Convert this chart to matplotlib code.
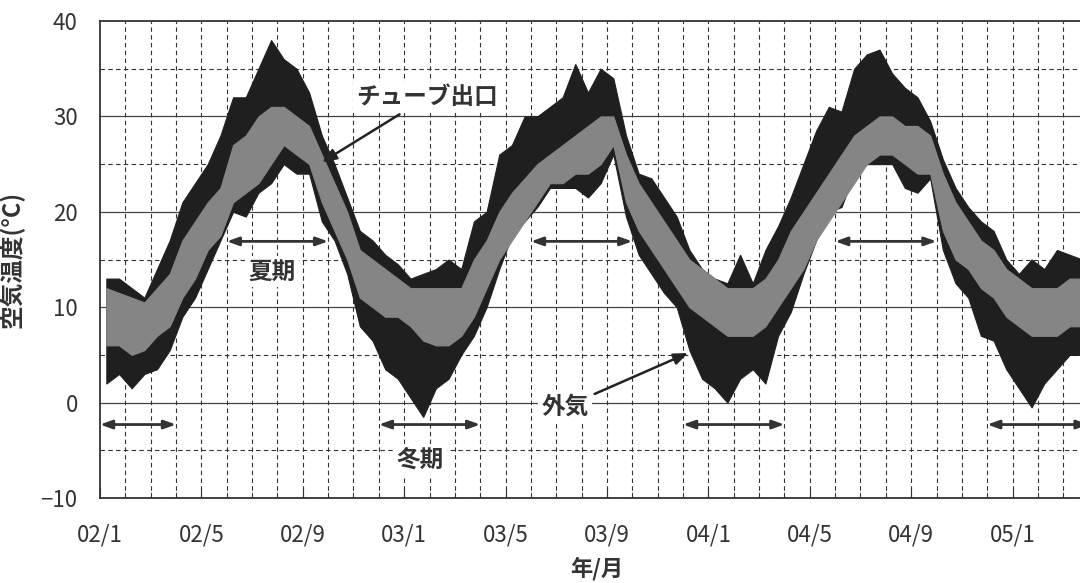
import matplotlib
matplotlib.use('Agg')
import matplotlib.pyplot as plt
import numpy as np

plt.rcParams['font.family'] = ['Noto Sans CJK JP', 'DejaVu Sans']

# half-month steps starting 2002/1 (x in months since 2002/1)
months = np.arange(78) * 0.5 + 0.25

# outside air (外気): upper / lower envelope per half month [degC]
out_hi = [13, 13, 12, 11, 14, 17, 21, 23, 25, 28, 32, 32, 35, 38, 36, 35,
          32.5, 28, 25, 21.5, 18, 17, 15.5, 14.5, 13, 13.5, 14, 15, 14, 19,
          20, 26, 27, 30, 30, 31, 32, 35.5, 32.5, 35, 34, 28, 24, 23.5, 21.5,
          19.5, 16, 14, 13, 12.5, 15.5, 12.5, 16, 18.5, 21.5, 25, 28.5, 31,
          30.5, 35, 36.5, 37, 34.5, 33, 32, 29.5, 25.5, 22.5, 20.5, 19, 18,
          15, 13.5, 15, 14, 16, 15.5, 15]
out_lo = [2, 3, 1.5, 3, 3.5, 5.5, 9, 11, 14, 17, 20, 19.5, 22, 23, 25, 24,
          24, 19, 17, 13.5, 8, 6.5, 3.5, 2.5, 0.5, -1.5, 1.5, 2.5, 5, 7,
          10, 14, 17.5, 19, 20.5, 22.5, 22.5, 22.5, 21.5, 23, 26, 19.5, 15.5,
          13.5, 11.5, 10, 5.5, 2.5, 1.5, 0, 2.5, 3.5, 2, 7, 9.5, 13.5, 17, 20,
          20.5, 24, 25, 25, 25, 22.5, 22, 23.5, 16, 12.5, 11, 7, 6.5, 3.5,
          1.5, -0.5, 2, 3.5, 5, 5]

# tube outlet (チューブ出口)
tube_hi = [12, 11.5, 11, 10.5, 12, 13.5, 17, 19, 21, 22.5, 27, 28, 30, 31, 31,
           30, 29, 26, 23, 20, 16, 15, 14, 13, 12, 12, 12, 12, 12, 15, 17, 20,
           22, 23.5, 25, 26, 27, 28, 29, 30, 30, 26, 23, 21, 19, 17, 15, 14,
           13, 12, 12, 12, 13, 15, 18, 20, 22, 24, 26, 28, 29, 30, 30, 29, 29,
           28, 24, 21, 19, 17, 16, 14, 13, 12, 12, 12, 13, 13]
tube_lo = [6, 6, 5, 5.5, 7, 8, 11, 13, 16, 17.5, 21, 22, 23, 25, 27, 26, 25,
           21, 18, 15, 11, 10, 9, 9, 8, 6.5, 6, 6, 7, 9, 12, 15, 17, 19, 21,
           23, 23, 24, 24, 25, 27, 21, 18, 16, 14, 12, 10, 9, 8, 7, 7, 7, 8,
           10, 12, 14, 17, 19, 21, 23, 25, 26, 26, 25, 24, 24, 18, 15, 14, 12,
           11, 9, 8, 7, 7, 7, 8, 8]

tick_pos = [0, 4, 8, 12, 16, 20, 24, 28, 32, 36]
tick_labels = ['02/1', '02/5', '02/9', '03/1', '03/5', '03/9',
               '04/1', '04/5', '04/9', '05/1']

summer = [(5, 9), (17, 21), (29, 33)]
winter = [(0, 3), (11, 15), (23, 27), (35, 39)]

fig = plt.figure(figsize=(10.8, 5.83), dpi=100)
ax = fig.add_axes([100 / 1080, 1 - 498 / 583, 1 - 100 / 1080, 477 / 583])

ax.fill_between(months, out_lo, out_hi, color='#1f1f1f', lw=0.8,
                edgecolor='#1f1f1f', zorder=3)
ax.fill_between(months, tube_lo, tube_hi, color='#858585', lw=0.8,
                edgecolor='#858585', zorder=4)

ax.set_xlim(0, 38.66)
ax.set_ylim(-10, 40)

# grid
for y in [0, 10, 20, 30]:
    ax.axhline(y, color='#444444', lw=0.9, zorder=1)
for y in [-5, 5, 15, 25, 35]:
    ax.axhline(y, color='#333333', lw=0.8, ls=(0, (4, 3)), zorder=1)
for m in range(1, 39):
    ax.axvline(m, color='#333333', lw=0.8, ls=(0, (4, 3)), zorder=1)

ax.set_xticks(tick_pos)
ax.set_xticklabels(tick_labels)
ax.set_xticks(range(39), minor=True)
ax.tick_params(axis='x', which='major', direction='in', length=7, pad=18,
               labelsize=16, labelcolor='#333333', color='#333333')
ax.tick_params(axis='x', which='minor', direction='in', length=4, color='#333333')
ax.set_yticks([-10, 0, 10, 20, 30, 40])
ax.set_yticklabels(['\u221210', '0', '10', '20', '30', '40'])
ax.tick_params(axis='y', length=0, pad=16, labelsize=16, labelcolor='#333333')

for s in ['left', 'bottom', 'top']:
    ax.spines[s].set_color('#333333')
    ax.spines[s].set_linewidth(1.3)
ax.spines['right'].set_visible(False)

ax.set_xlabel('年/月', fontsize=16, fontweight='bold', color='#333333')
ax.xaxis.set_label_coords(0.507, -0.123)
ax.set_ylabel('空気温度(°C)', fontsize=17, fontweight='bold', color='#333333')
ax.yaxis.set_label_coords(-0.077, 0.5)

# season arrows
arr = dict(arrowstyle='<|-|>,head_length=0.7,head_width=0.25', color='#333333',
           lw=2, shrinkA=0, shrinkB=0)
for a, b in summer:
    ax.annotate('', xy=(b, 16.9), xytext=(a, 16.9), arrowprops=arr,
                annotation_clip=False, zorder=6)
for a, b in winter:
    ax.annotate('', xy=(b, -2.3), xytext=(a, -2.3), arrowprops=arr,
                annotation_clip=False, zorder=6)

box = dict(boxstyle='square,pad=0.15', fc='white', ec='none')
lab = dict(fontsize=17, fontweight='bold', color='#333333', ha='center', va='center')
ax.text(6.79, 13.7, '夏期', bbox=box, zorder=7, **lab)
ax.text(12.62, -6.0, '冬期', bbox=box, zorder=7, **lab)

line = dict(arrowstyle='-|>,head_length=0.5,head_width=0.2', color='#222222', lw=1.8,
            shrinkA=2, shrinkB=0)
ax.annotate('チューブ出口', xy=(8.76, 25.2), xytext=(12.9, 32.0), arrowprops=line,
            bbox=box, zorder=7, **lab)
ax.annotate('外気', xy=(23.2, 5.2), xytext=(18.34, -0.46), arrowprops=line,
            bbox=box, zorder=7, **lab)

plt.savefig('out.png', dpi=100)
